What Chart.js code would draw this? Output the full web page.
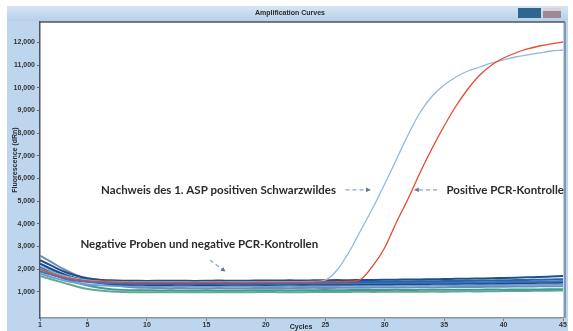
<!DOCTYPE html>
<html>
<head>
<meta charset="utf-8">
<script src="https://cdn.jsdelivr.net/npm/chart.js@4.4.0/dist/chart.umd.min.js"></script>
<style>
  html, body { margin: 0; padding: 0; background: #ffffff; }
  #wrap { width: 573px; height: 331px; }
</style>
</head>
<body>
<div id="wrap"><canvas id="c" width="573" height="331"></canvas></div>
<script>
// PCR cycles (x axis)
const cycles = [1,2,3,4,5,6,7,8,9,10,11,12,13,14,15,16,17,18,19,20,21,22,23,24,25,26,27,28,29,30,31,32,33,34,35,36,37,38,39,40,41,42,43,44,45];
const xTicks = [1,5,10,15,20,25,30,35,40,45];
const yTicks = [1000,2000,3000,4000,5000,6000,7000,8000,9000,10000,11000,12000];

// Positive wild boar sample (ASF)
const aspPositive = [2150,1900,1720,1600,1520,1480,1460,1450,1445,1440,1440,1445,1440,1435,1440,1445,1440,1440,1445,1450,1445,1450,1455,1460,1520,1966,2760,3730,4700,5758,6860,7963,8933,9638,10123,10476,10740,10916,11093,11225,11357,11446,11534,11622,11666];
// Positive PCR control
const pcrPositive = [2000,1800,1650,1550,1490,1460,1440,1430,1425,1420,1420,1425,1420,1420,1425,1430,1425,1420,1425,1430,1425,1430,1430,1435,1440,1440,1460,1560,2150,2950,4083,5141,6287,7345,8315,9197,9946,10564,11005,11313,11534,11710,11842,11931,12019];

// Negative samples and negative PCR controls
const neg1 = [2400,2150,1900,1720,1600,1540,1510,1495,1490,1485,1490,1495,1490,1485,1490,1500,1495,1490,1500,1505,1500,1510,1505,1510,1515,1520,1515,1525,1530,1535,1540,1545,1550,1560,1565,1575,1580,1590,1600,1615,1630,1645,1660,1680,1700];
const neg2 = [2100,1900,1720,1600,1520,1470,1440,1425,1420,1415,1420,1410,1415,1420,1415,1410,1420,1425,1420,1415,1425,1430,1425,1430,1435,1430,1440,1445,1440,1450,1455,1460,1465,1470,1480,1485,1490,1500,1505,1515,1520,1530,1540,1550,1560];
const neg3 = [1900,1750,1600,1500,1440,1400,1380,1370,1365,1360,1365,1370,1360,1365,1370,1365,1360,1370,1375,1370,1365,1375,1380,1375,1380,1385,1380,1390,1395,1390,1400,1405,1400,1410,1415,1420,1425,1430,1430,1440,1445,1450,1455,1460,1470];
const neg4 = [2250,2000,1780,1600,1480,1400,1350,1325,1315,1310,1305,1310,1315,1310,1305,1310,1315,1320,1315,1310,1320,1325,1320,1325,1330,1325,1330,1335,1340,1335,1345,1350,1350,1355,1360,1365,1370,1375,1380,1385,1390,1395,1400,1405,1410];
const neg5 = [1800,1650,1500,1400,1330,1290,1270,1260,1255,1250,1255,1250,1245,1250,1255,1250,1245,1250,1255,1260,1255,1250,1260,1265,1260,1265,1270,1265,1270,1275,1270,1280,1285,1280,1290,1295,1290,1300,1305,1310,1310,1315,1320,1325,1330];
const neg6 = [2000,1800,1600,1420,1280,1180,1120,1090,1075,1070,1065,1070,1060,1065,1070,1065,1060,1065,1070,1075,1070,1065,1070,1075,1080,1075,1080,1085,1080,1085,1090,1085,1090,1095,1090,1095,1100,1100,1105,1100,1105,1110,1110,1115,1120];
const neg7 = [2600,2300,2000,1750,1550,1400,1300,1240,1200,1180,1170,1165,1170,1160,1165,1170,1165,1160,1170,1175,1170,1165,1175,1180,1175,1180,1185,1180,1190,1195,1190,1200,1205,1200,1210,1215,1220,1220,1225,1230,1235,1240,1245,1250,1255];
const neg8 = [1700,1550,1400,1250,1130,1060,1020,1000,990,985,990,985,980,985,990,985,980,985,990,995,990,985,990,995,1000,995,1000,1005,1000,1005,1010,1005,1010,1015,1010,1020,1025,1020,1030,1035,1040,1045,1050,1055,1060];

const negatives = [
  { data: neg1, color: '#1f4f8f' },
  { data: neg2, color: '#2b63a6' },
  { data: neg3, color: '#3a76bd' },
  { data: neg4, color: '#1d4a86' },
  { data: neg5, color: '#6f9fd6' },
  { data: neg6, color: '#3f9a98' },
  { data: neg7, color: '#6e8fb2' },
  { data: neg8, color: '#66aa8c' }
];

const toPoints = arr => cycles.map((c, i) => ({ x: c, y: arr[i] }));

const lineStyle = (label, arr, color, width) => ({
  label, data: toPoints(arr), borderColor: color, borderWidth: width,
  pointRadius: 0, fill: false, cubicInterpolationMode: 'monotone'
});

const datasets = [
  lineStyle('Positive PCR-Kontrolle', pcrPositive, '#e8492f', 1.3),
  lineStyle('ASP positives Schwarzwild', aspPositive, '#93b6e2', 1.3)
].concat(negatives.map((n, i) => lineStyle('Negativ ' + (i + 1), n.data, n.color, 2)));

// Callout labels with arrows, positioned in data units
const callouts = [
  { text: 'Nachweis des 1. ASP positiven Schwarzwildes', tx: 25.9, ty: 5500, align: 'right',
    from: [26.7, 5500], to: [28.8, 5500] },
  { text: 'Positive PCR-Kontrolle', tx: 35.2, ty: 5500, align: 'left',
    from: [34.4, 5500], to: [32.5, 5500] },
  { text: 'Negative Proben und negative PCR-Kontrollen', tx: 4.4, ty: 3110, align: 'left',
    from: [15.3, 2400], to: [16.6, 1900] }
];

const frame = {
  id: 'frame',
  beforeDraw(chart) {
    const ctx = chart.ctx, a = chart.chartArea;
    ctx.save();
    ctx.fillStyle = '#ffffff';
    ctx.fillRect(0, 0, chart.width, chart.height);
    // window panel
    ctx.fillStyle = '#bdd5ed';
    ctx.fillRect(7, 6, 561, 325);
    // title bar
    const g = ctx.createLinearGradient(0, 6, 0, 21);
    g.addColorStop(0, '#d6e6f5');
    g.addColorStop(1, '#b7cfe8');
    ctx.fillStyle = g;
    ctx.fillRect(7, 6, 561, 15);
    // buttons
    ctx.fillStyle = '#2f6690';
    ctx.fillRect(518, 8, 23, 10);
    ctx.fillStyle = '#9b8c93';
    ctx.fillRect(543, 8, 18, 10);
    ctx.fillStyle = '#d8d0d4';
    ctx.fillRect(543, 8, 18, 3);
    // plot area
    ctx.fillStyle = '#ffffff';
    ctx.fillRect(a.left, a.top, a.right - a.left, a.bottom - a.top);
    ctx.strokeStyle = '#4d5560';
    ctx.lineWidth = 1.5;
    ctx.beginPath();
    ctx.moveTo(a.left, a.top); ctx.lineTo(a.right + 2, a.top);
    ctx.stroke();
    ctx.strokeStyle = '#7f97b3';
    ctx.lineWidth = 2;
    ctx.beginPath();
    ctx.moveTo(a.right + 2, a.top); ctx.lineTo(a.right + 2, a.bottom);
    ctx.stroke();
    ctx.restore();
  },
  afterDraw(chart) {
    const ctx = chart.ctx, xs = chart.scales.x, ys = chart.scales.y;
    ctx.save();
    ctx.fillStyle = '#2a2a2a';
    ctx.textBaseline = 'middle';
    // chart title and axis titles
    ctx.font = 'bold 7px "Liberation Sans"';
    ctx.textAlign = 'center';
    ctx.fillText('Amplification Curves', 290, 13);
    ctx.fillText('Cycles', 301, 327);
    ctx.save();
    ctx.translate(15, 160);
    ctx.rotate(-Math.PI / 2);
    ctx.fillText('Fluorescence (dRn)', 0, 0);
    ctx.restore();

    // callouts
    callouts.forEach(c => {
      ctx.font = 'bold 11.5px "Lato"';
      ctx.fillStyle = '#2b2b2b';
      ctx.textAlign = c.align;
      ctx.fillText(c.text, xs.getPixelForValue(c.tx), ys.getPixelForValue(c.ty));
      const x1 = xs.getPixelForValue(c.from[0]), y1 = ys.getPixelForValue(c.from[1]);
      const x2 = xs.getPixelForValue(c.to[0]), y2 = ys.getPixelForValue(c.to[1]);
      ctx.strokeStyle = '#8ea5c6';
      ctx.lineWidth = 1.2;
      ctx.setLineDash([4, 3]);
      ctx.beginPath(); ctx.moveTo(x1, y1); ctx.lineTo(x2, y2); ctx.stroke();
      ctx.setLineDash([]);
      const ang = Math.atan2(y2 - y1, x2 - x1);
      ctx.fillStyle = '#5f7696';
      ctx.beginPath();
      ctx.moveTo(x2, y2);
      ctx.lineTo(x2 - 5 * Math.cos(ang - 0.5), y2 - 5 * Math.sin(ang - 0.5));
      ctx.lineTo(x2 - 5 * Math.cos(ang + 0.5), y2 - 5 * Math.sin(ang + 0.5));
      ctx.closePath(); ctx.fill();
    });
    ctx.restore();
  }
};

Chart.defaults.font.family = '"Liberation Sans", sans-serif';
Chart.defaults.font.size = 7;
Chart.defaults.font.weight = 'bold';
Chart.defaults.color = '#333333';

new Chart(document.getElementById('c'), {
  type: 'line',
  data: { datasets },
  options: {
    responsive: false,
    animation: false,
    events: [],
    layout: { padding: { left: 0, right: 10, top: 22, bottom: 0 } },
    plugins: { legend: { display: false }, tooltip: { enabled: false }, title: { display: false } },
    scales: {
      x: {
        type: 'linear', min: 1, max: 45,
        afterBuildTicks: s => { s.ticks = xTicks.map(v => ({ value: v })); },
        afterFit: s => { s.height = 13; },
        ticks: { padding: 0, maxRotation: 0, autoSkip: false },
        grid: { drawOnChartArea: false, tickLength: 3, color: '#777' },
        border: { color: '#8a96a6', width: 1.5 }
      },
      y: {
        type: 'linear', min: -150, max: 12900,
        afterBuildTicks: s => { s.ticks = yTicks.map(v => ({ value: v })); },
        afterFit: s => { s.width = 40; },
        ticks: { padding: 2, callback: v => v.toLocaleString('en-US') },
        grid: { drawOnChartArea: false, tickLength: 3, color: '#666' },
        border: { color: '#4d5560', width: 1.5 }
      }
    }
  },
  plugins: [frame]
});
</script>
</body>
</html>
